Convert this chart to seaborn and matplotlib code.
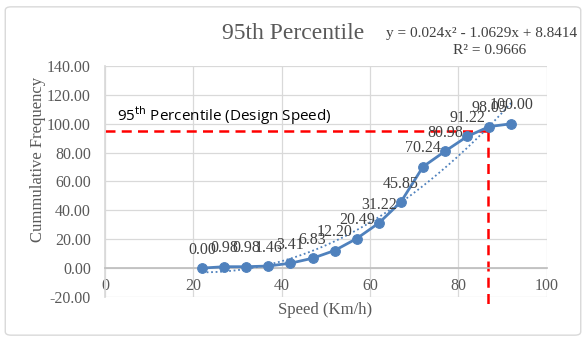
import numpy as np
import pandas as pd
import matplotlib
matplotlib.use("Agg")
import matplotlib.pyplot as plt
import seaborn as sns
from matplotlib.patches import FancyBboxPatch

speed = [22, 27, 32, 37, 42, 47, 52, 57, 62, 67, 72, 77, 82, 87, 92]
cum_freq = [0.00, 0.98, 0.98, 1.46, 3.41, 6.83, 12.20, 20.49, 31.22, 45.85,
            70.24, 80.98, 91.22, 98.05, 100.00]
design_speed = 86.7
percentile = 95
x_ticks = [0, 20, 40, 60, 80, 100]
y_ticks = [-20, 0, 20, 40, 60, 80, 100, 120, 140]

sns.set_theme(style="white")
serif = ["Liberation Serif", "DejaVu Serif"]
plt.rcParams['font.family'] = serif

df = pd.DataFrame({"Speed": speed, "Cum": cum_freq})
blue = "#4F81BD"
gray = "#595959"

fig = plt.figure(figsize=(5.86, 3.42), dpi=100)
fig.patches.append(FancyBboxPatch((0.009, 0.02), 0.982, 0.96,
                                  boxstyle="round,pad=0,rounding_size=0.01",
                                  transform=fig.transFigure, fill=False,
                                  edgecolor="#D9D9D9", linewidth=1.0))
ax = fig.add_axes([0.179, 0.1316, 0.754, 0.6754])

# trendline (polynomial order 2)
coef = np.polyfit(speed, cum_freq, 2)
xs = np.linspace(min(speed), max(speed), 200)
ax.plot(xs, np.polyval(coef, xs), linestyle=(0, (1, 1.5)), color=blue,
        linewidth=1.3, zorder=3)

sns.lineplot(data=df, x="Speed", y="Cum", ax=ax, color=blue, linewidth=2,
             marker="o", markersize=7, markeredgecolor=blue, zorder=4)

for xv, yv in zip(speed, cum_freq):
    ax.annotate(f"{yv:.2f}", (xv, yv), xytext=(0, 7.5), textcoords="offset points",
                ha="center", va="bottom", fontsize=11.5, color="#404040", zorder=5)

# design speed lines
ax.plot([0, design_speed], [percentile, percentile], color="#FF0000",
        linestyle=(0, (4, 2.5)), linewidth=1.8, zorder=2)
ax.plot([design_speed, design_speed], [percentile, -27], color="#FF0000",
        linestyle=(0, (4, 2.5)), linewidth=1.8, zorder=2, clip_on=False)

ax.text(2.8, 97.5, r"95$^{\mathrm{th}}$ Percentile (Design Speed)",
        fontsize=11, color="black", family=["Open Sans", "DejaVu Sans"],
        ha="left", va="bottom")

ax.set_xlim(0, 100)
ax.set_ylim(-20, 140)
ax.set_xticks(x_ticks)
ax.set_yticks(y_ticks)
ax.set_yticklabels([f"{v:.2f}" for v in y_ticks])
ax.tick_params(axis="both", length=0, labelsize=11.5, colors=gray)
ax.tick_params(axis="x", pad=7)
ax.tick_params(axis="y", pad=10)
ax.grid(True, color="#D9D9D9", linewidth=0.9)
ax.spines['bottom'].set_position(('data', 0))
ax.spines['bottom'].set_color("#BFBFBF")
ax.spines['left'].set_color("#D9D9D9")
ax.spines['top'].set_visible(False)
ax.spines['right'].set_visible(False)
ax.set_axisbelow(True)
ax.set_xlabel("")
ax.set_ylabel("")

fig.text(0.5, 0.903, "95th Percentile", ha="center", va="center",
         fontsize=17, color=gray)
fig.text(0.822, 0.903, "y = 0.024x² - 1.0629x + 8.8414", ha="center",
         va="center", fontsize=11, color="#404040")
fig.text(0.836, 0.853, "R² = 0.9666", ha="center", va="center",
         fontsize=11, color="#404040")
fig.text(0.555, 0.093, "Speed (Km/h)", ha="center", va="center",
         fontsize=12, color=gray)
fig.text(0.065, 0.535, "Cummulative Frequency", ha="center", va="center",
         rotation=90, fontsize=12, color=gray)

fig.savefig("out.png", dpi=100)
